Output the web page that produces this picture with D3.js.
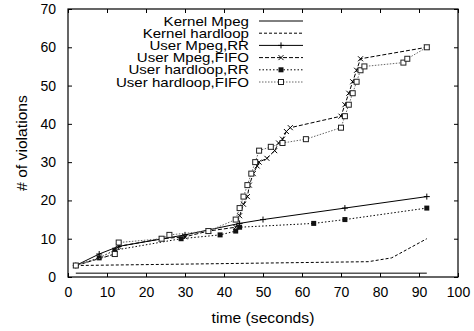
<!DOCTYPE html>
<html>
<head>
<meta charset="utf-8">
<script src="https://cdn.jsdelivr.net/npm/d3@7"></script>
<style>
  body { margin: 0; background: #fff; }
  text { font-family: "Liberation Sans", Arial, sans-serif; }
</style>
</head>
<body>
<svg id="chart" width="474" height="331"></svg>
<script>
// data =================================================================
var xTicks = [0, 10, 20, 30, 40, 50, 60, 70, 80, 90, 100],
    yTicks = [0, 10, 20, 30, 40, 50, 60, 70];

var kernelMpeg = [[2, 1], [92, 1]];
var kernelHardloop = [[2, 3], [40, 3.5], [77, 4], [83, 5], [92, 10]];
var userMpegRR = [[2, 3], [8, 6], [13, 8], [30, 11], [44, 14], [50, 15], [71, 18], [92, 21]];
var userMpegFIFO = [[2, 3], [12, 6], [13, 8], [24, 10], [30, 10.5], [36, 12], [43, 13],
    [44, 16], [45, 19], [46, 21], [46.5, 24], [47.5, 27], [48.5, 29], [49, 30], [51, 31],
    [53, 33], [54, 35], [55, 36], [56, 38], [57, 39], [70, 42], [71, 45], [72, 48],
    [73, 51], [74, 54], [75, 57], [92, 60]];
var userHardloopRR = [[2, 3], [8, 5], [12, 7], [29, 10], [39, 11], [43, 12], [44, 13],
    [63, 14], [71, 15], [92, 18]];
var userHardloopFIFO = [[2, 3], [12, 6], [13, 9], [24, 10], [26, 11], [36, 12], [43, 15],
    [44, 18], [45, 21], [46, 24], [47, 27], [48, 30], [49, 33], [52, 34], [55, 35],
    [61, 36], [70, 39], [71, 42], [72, 45], [73, 48], [74, 51], [75, 54], [76, 55],
    [86, 56], [87, 57], [92, 60]];

var seriesNames = ["Kernel Mpeg", "Kernel hardloop", "User Mpeg,RR", "User Mpeg,FIFO",
    "User hardloop,RR", "User hardloop,FIFO"];

// chart ================================================================
var series = [
    {name: seriesNames[0], data: kernelMpeg, dash: null, color: "#000", mark: null},
    {name: seriesNames[1], data: kernelHardloop, dash: "3,2", color: "#000", mark: null},
    {name: seriesNames[2], data: userMpegRR, dash: null, color: "#000", mark: "plus"},
    {name: seriesNames[3], data: userMpegFIFO, dash: "4,2", color: "#000", mark: "cross"},
    {name: seriesNames[4], data: userHardloopRR, dash: "1.5,2", color: "#000", mark: "fill"},
    {name: seriesNames[5], data: userHardloopFIFO, dash: "1.5,1.5", color: "#666", mark: "box"}
];

var svg = d3.select("#chart"),
    margin = {top: 9, right: 16, bottom: 54, left: 68},
    width = +svg.attr("width") - margin.left - margin.right,
    height = +svg.attr("height") - margin.top - margin.bottom,
    g = svg.append("g").attr("transform", "translate(" + margin.left + "," + margin.top + ")");

var x = d3.scaleLinear().domain([0, 100]).range([0, width]),
    y = d3.scaleLinear().domain([0, 70]).range([height, 0]);

// axes, ticks inward on all sides
function styleAxis(sel) {
    sel.select(".domain").remove();
    sel.selectAll("line").attr("stroke", "#000");
    sel.selectAll("text").attr("font-size", "14px").attr("fill", "#000");
}
g.append("g").attr("transform", "translate(0," + height + ")")
    .call(d3.axisBottom(x).tickValues(xTicks).tickSize(-4).tickPadding(10))
    .call(styleAxis);
g.append("g")
    .call(d3.axisLeft(y).tickValues(yTicks).tickSize(-4).tickPadding(12))
    .call(styleAxis);
g.append("g")
    .call(d3.axisTop(x).tickValues(xTicks).tickSize(-4).tickFormat(""))
    .call(styleAxis);
g.append("g").attr("transform", "translate(" + width + ",0)")
    .call(d3.axisRight(y).tickValues(yTicks).tickSize(-4).tickFormat(""))
    .call(styleAxis);

g.append("rect")
    .attr("width", width).attr("height", height)
    .attr("fill", "none").attr("stroke", "#000").attr("stroke-width", 1.2);

// titles are a little wider than plain Helvetica in the original
svg.append("text")
    .attr("transform", "translate(27," + (margin.top + height / 2) + ") rotate(-90) scale(1.12,1)")
    .attr("text-anchor", "middle")
    .attr("font-size", "14px")
    .text("# of violations");

svg.append("text")
    .attr("transform", "translate(" + (margin.left + width / 2) + ",323) scale(1.12,1)")
    .attr("text-anchor", "middle")
    .attr("font-size", "14px")
    .text("time (seconds)");

var line = d3.line()
    .x(function(d) { return x(d[0]); })
    .y(function(d) { return y(d[1]); });

function drawMark(sel, type, color) {
    if (type === "plus") {
        sel.append("path").attr("d", "M-3,0H3M0,-3V3")
            .attr("stroke", color).attr("fill", "none");
    } else if (type === "cross") {
        sel.append("path").attr("d", "M-2.5,-2.5L2.5,2.5M-2.5,2.5L2.5,-2.5")
            .attr("stroke", color).attr("fill", "none");
    } else if (type === "fill") {
        sel.append("rect").attr("x", -2.5).attr("y", -2.5).attr("width", 5).attr("height", 5)
            .attr("fill", "#111");
    } else if (type === "box") {
        sel.append("rect").attr("x", -2.5).attr("y", -2.5).attr("width", 5).attr("height", 5)
            .attr("fill", "#fff").attr("stroke", "#222");
    }
}

series.forEach(function(s) {
    g.append("path")
        .datum(s.data)
        .attr("fill", "none")
        .attr("stroke", s.color)
        .attr("stroke-width", 1)
        .attr("stroke-dasharray", s.dash)
        .attr("d", line);
    if (s.mark) {
        g.selectAll(null)
            .data(s.data)
            .enter().append("g")
            .attr("transform", function(d) { return "translate(" + x(d[0]) + "," + y(d[1]) + ")"; })
            .each(function() { drawMark(d3.select(this), s.mark, s.color === "#666" ? "#222" : s.color); });
    }
});

// legend
var legend = svg.append("g");
series.forEach(function(s, i) {
    var ly = 21 + i * 12.2;
    legend.append("text")
        .attr("transform", "translate(249," + ly + ") scale(1.16,1)")
        .attr("dy", "0.35em")
        .attr("text-anchor", "end")
        .attr("font-size", "13px")
        .text(s.name);
    legend.append("line")
        .attr("x1", 259).attr("x2", 303).attr("y1", ly).attr("y2", ly)
        .attr("stroke", s.color).attr("stroke-dasharray", s.dash);
    if (s.mark) {
        var m = legend.append("g").attr("transform", "translate(281," + ly + ")");
        drawMark(m, s.mark, "#000");
    }
});
</script>
</body>
</html>
